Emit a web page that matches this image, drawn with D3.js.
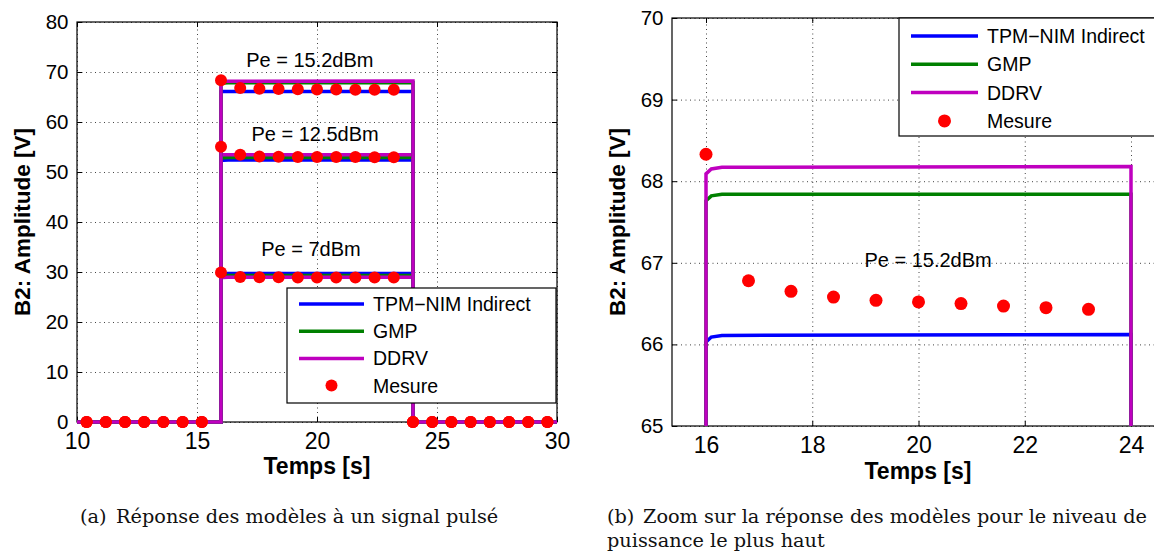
<!DOCTYPE html>
<html>
<head>
<meta charset="UTF-8">
<title>Réponse des modèles</title>
<script src="https://d3js.org/d3.v7.min.js"></script>
<style>
    body { margin: 0; background: #fff; }
    svg { display: block; font-family: "Liberation Sans", Arial, Helvetica, sans-serif; }
    .caption { font-family: "DejaVu Serif", serif; font-size: 19.3px; fill: #111; }
    .grid line { stroke: #444; stroke-width: 1; stroke-dasharray: 1,3.5; }
    .grid .domain { display: none; }
</style>
</head>
<body>
<svg id="mainsvg" width="1154" height="556"></svg>
<script>
// ---- data ----
const seriesNames = ['TPM\u2212NIM Indirect', 'GMP', 'DDRV'];
const measureName = 'Mesure';
const seriesColors = ['#0000ff', '#008000', '#bf00bf'];
const measureColor = '#ff0000';
const levelLabels = ['Pe = 7dBm', 'Pe = 12.5dBm', 'Pe = 15.2dBm'];

// model outputs (pulse 16 s -> 24 s)
const tModel = [10, 16, 16, 16.1, 16.3, 24, 24, 30];
const tpm7   = [0, 0, 29.66, 29.70, 29.72, 29.72, 0, 0];
const gmp7   = [0, 0, 29.25, 29.30, 29.32, 29.32, 0, 0];
const ddrv7  = [0, 0, 28.88, 28.92, 28.93, 28.93, 0, 0];
const tpm12  = [0, 0, 52.30, 52.36, 52.38, 52.38, 0, 0];
const gmp12  = [0, 0, 52.80, 52.86, 52.88, 52.88, 0, 0];
const ddrv12 = [0, 0, 53.38, 53.44, 53.46, 53.46, 0, 0];
const tpm15  = [0, 0, 66.03, 66.09, 66.11, 66.12, 0, 0];
const gmp15  = [0, 0, 67.76, 67.82, 67.84, 67.84, 0, 0];
const ddrv15 = [0, 0, 68.09, 68.15, 68.17, 68.18, 0, 0];

// measurements
const tMes  = [10.4, 11.2, 12.0, 12.8, 13.6, 14.4, 15.2, 16.0, 16.8, 17.6, 18.4, 19.2, 20.0,
               20.8, 21.6, 22.4, 23.2, 24.0, 24.8, 25.6, 26.4, 27.2, 28.0, 28.8, 29.6];
const mes7  = [0, 0, 0, 0, 0, 0, 0, 29.9, 29.0, 28.95, 28.93, 28.92, 28.92,
               28.91, 28.91, 28.9, 28.9, 0, 0, 0, 0, 0, 0, 0, 0];
const mes12 = [0, 0, 0, 0, 0, 0, 0, 55.05, 53.45, 53.1, 53.05, 53.02, 53.0,
               53.0, 52.98, 52.97, 52.96, 0, 0, 0, 0, 0, 0, 0, 0];
const mes15 = [0, 0, 0, 0, 0, 0, 0, 68.33, 66.78, 66.65, 66.58, 66.54, 66.52,
               66.50, 66.47, 66.45, 66.43, 0, 0, 0, 0, 0, 0, 0, 0];

const xTicksA = [10, 15, 20, 25, 30];
const yTicksA = [0, 10, 20, 30, 40, 50, 60, 70, 80];
const xTicksB = [16, 18, 20, 22, 24];
const yTicksB = [65, 66, 67, 68, 69, 70];

const xLabel = 'Temps [s]';
const yLabel = 'B2: Amplitude [V]';
const captionA = ['(a)', 'Réponse des modèles à un signal pulsé'];
const captionB = ['(b)', 'Zoom sur la réponse des modèles pour le niveau de', 'puissance le plus haut'];

// ---- build ----
const svg = d3.select('#mainsvg');
const modelSets = [[tpm7, gmp7, ddrv7], [tpm12, gmp12, ddrv12], [tpm15, gmp15, ddrv15]];
const mesSets = [mes7, mes12, mes15];

const drawPanel = function(cfg) {
    const x = d3.scaleLinear().domain(cfg.xDomain).range([cfg.left, cfg.right]);
    const y = d3.scaleLinear().domain(cfg.yDomain).range([cfg.bottom, cfg.top]);
    const w = cfg.right - cfg.left, h = cfg.bottom - cfg.top;
    const g = svg.append('g');

    const clipId = 'clip' + cfg.id;
    g.append('clipPath').attr('id', clipId)
        .append('rect').attr('x', cfg.left).attr('y', cfg.top - 4).attr('width', w).attr('height', h + 4);

    // dotted grid
    g.append('g').attr('class', 'grid')
        .attr('transform', `translate(0,${cfg.bottom})`)
        .call(d3.axisBottom(x).tickValues(cfg.xTicks).tickSize(-h).tickFormat(''));
    g.append('g').attr('class', 'grid')
        .attr('transform', `translate(${cfg.left},0)`)
        .call(d3.axisLeft(y).tickValues(cfg.yTicks).tickSize(-w).tickFormat(''));

    // box
    g.append('rect').attr('x', cfg.left).attr('y', cfg.top).attr('width', w).attr('height', h)
        .attr('fill', 'none').attr('stroke', '#000').attr('stroke-width', 1.2);

    // axes with inward ticks
    const fmt = d3.format('d');
    const xb = g.append('g').attr('transform', `translate(0,${cfg.bottom})`)
        .call(d3.axisBottom(x).tickValues(cfg.xTicks).tickFormat(fmt).tickSizeInner(-5).tickSizeOuter(0).tickPadding(10.5));
    const yl = g.append('g').attr('transform', `translate(${cfg.left},0)`)
        .call(d3.axisLeft(y).tickValues(cfg.yTicks).tickFormat(fmt).tickSizeInner(-5).tickSizeOuter(0).tickPadding(8.5));
    const xt = g.append('g').attr('transform', `translate(0,${cfg.top})`)
        .call(d3.axisTop(x).tickValues(cfg.xTicks).tickSizeInner(-5).tickSizeOuter(0).tickFormat(''));
    const yr = g.append('g').attr('transform', `translate(${cfg.right},0)`)
        .call(d3.axisRight(y).tickValues(cfg.yTicks).tickSizeInner(-5).tickSizeOuter(0).tickFormat(''));
    [xb, yl, xt, yr].forEach(a => {
        a.select('.domain').remove();
        a.selectAll('.tick line').attr('stroke', '#000');
        a.selectAll('.tick text').attr('fill', '#000')
            .style('font-family', '"Liberation Sans", Arial, sans-serif');
    });
    xb.selectAll('.tick text').style('font-size', '23px');
    yl.selectAll('.tick text').style('font-size', '20.5px');

    // axis labels
    g.append('text').attr('x', (cfg.left + cfg.right) / 2 + cfg.xLabelShift).attr('y', cfg.xLabelY)
        .attr('text-anchor', 'middle').style('font-size', '23px').style('font-weight', 'bold').text(xLabel);
    g.append('text').attr('transform', `translate(${cfg.yLabelX},${(cfg.top + cfg.bottom) / 2}) rotate(-90)`)
        .attr('text-anchor', 'middle').style('font-size', '22.5px').style('font-weight', 'bold').text(yLabel);

    // model lines
    const line = d3.line().x(d => x(d[0])).y(d => y(d[1]));
    const plot = g.append('g').attr('clip-path', cfg.clip ? `url(#${clipId})` : null);
    cfg.levels.forEach(li => {
        modelSets[li].forEach((vals, si) => {
            plot.append('path')
                .datum(tModel.map((t, i) => [t, vals[i]]))
                .attr('d', line)
                .attr('fill', 'none')
                .attr('stroke', seriesColors[si])
                .attr('stroke-width', cfg.lineWidth)
                .attr('stroke-linejoin', 'miter');
        });
    });

    // measurement markers
    cfg.levels.forEach(li => {
        const pts = tMes.map((t, i) => [t, mesSets[li][i]])
            .filter(d => d[0] >= cfg.xDomain[0] && d[0] <= cfg.xDomain[1]
                      && d[1] >= cfg.yDomain[0] && d[1] <= cfg.yDomain[1]);
        g.append('g').selectAll('circle').data(pts).join('circle')
            .attr('cx', d => x(d[0])).attr('cy', d => y(d[1]))
            .attr('r', cfg.markerR).attr('fill', measureColor);
    });

    // level annotations
    cfg.notes.forEach(n => {
        g.append('text').attr('x', x(n.x)).attr('y', y(n.y)).attr('text-anchor', 'middle')
            .style('font-size', '20px').attr('fill', '#000').text(levelLabels[n.level]);
    });

    // legend
    const L = cfg.legend;
    const lg = g.append('g').attr('transform', `translate(${L.x},${L.y})`);
    lg.append('rect').attr('width', L.w).attr('height', L.h)
        .attr('fill', '#fff').attr('stroke', '#000').attr('stroke-width', 1.2);
    const entries = seriesNames.concat([measureName]);
    entries.forEach((name, i) => {
        const ey = L.row0 + i * L.rowStep;
        if (i < seriesNames.length) {
            lg.append('line').attr('x1', L.lineX0).attr('x2', L.lineX1).attr('y1', ey).attr('y2', ey)
                .attr('stroke', seriesColors[i]).attr('stroke-width', cfg.lineWidth);
        } else {
            lg.append('circle').attr('cx', (L.lineX0 + L.lineX1) / 2).attr('cy', ey)
                .attr('r', cfg.markerR).attr('fill', measureColor);
        }
        lg.append('text').attr('x', L.textX).attr('y', ey).attr('dy', '0.36em')
            .style('font-size', '19.5px').attr('fill', '#000').text(name);
    });
};

// panel (a): whole pulse, three power levels
drawPanel({
    id: 'a', left: 77, right: 557, top: 22, bottom: 422,
    xDomain: [10, 30], yDomain: [0, 80], xTicks: xTicksA, yTicks: yTicksA,
    xLabelY: 474, xLabelShift: 0, yLabelX: 30,
    levels: [0, 1, 2], clip: false, lineWidth: 3.5, markerR: 6,
    notes: [{level: 2, x: 19.7, y: 71.0}, {level: 1, x: 19.92, y: 56.2}, {level: 0, x: 19.75, y: 33.2}],
    legend: {x: 287, y: 288, w: 269, h: 115, row0: 16, rowStep: 27.2, lineX0: 12, lineX1: 77, textX: 86}
});

// panel (b): zoom on the highest level
drawPanel({
    id: 'b', left: 672, right: 1165, top: 18, bottom: 426,
    xDomain: [15.36, 24.64], yDomain: [65, 70], xTicks: xTicksB, yTicks: yTicksB,
    xLabelY: 479, xLabelShift: -0.5, yLabelX: 625,
    levels: [2], clip: true, lineWidth: 3.5, markerR: 6.5,
    notes: [{level: 2, x: 20.18, y: 66.95}],
    legend: {x: 899, y: 18, w: 262, h: 118, row0: 18, rowStep: 28.3, lineX0: 12, lineX1: 79, textX: 88}
});

// captions
const capA = svg.append('text').attr('class', 'caption').attr('y', 523);
capA.append('tspan').attr('x', 80).text(captionA[0]);
capA.append('tspan').attr('x', 116).text(captionA[1]);
const capB = svg.append('text').attr('class', 'caption').attr('y', 523);
capB.append('tspan').attr('x', 607).text(captionB[0]);
capB.append('tspan').attr('x', 643).text(captionB[1]);
svg.append('text').attr('class', 'caption').attr('x', 607).attr('y', 547).text(captionB[2]);
</script>
</body>
</html>
